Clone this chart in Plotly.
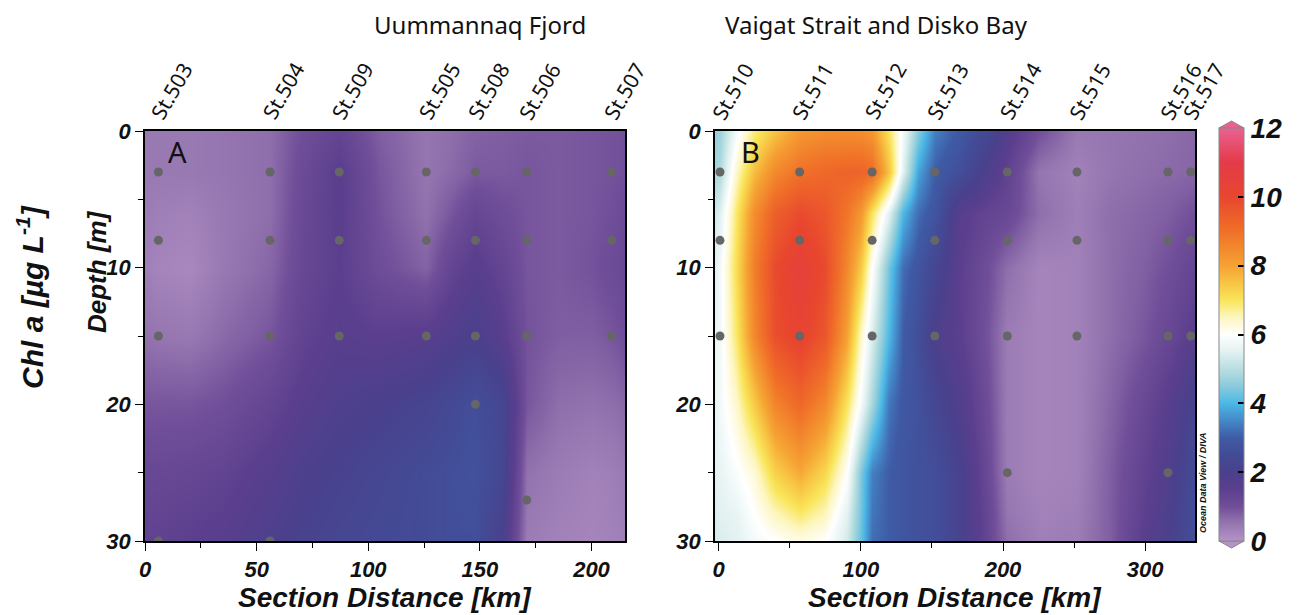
import plotly.graph_objects as go

# ---------------- data ----------------
depths_A = [0, 3, 6, 10, 15, 20, 25, 30]
dist_A = [0, 6, 20, 35, 56, 70, 87, 105, 126, 137, 148, 160, 171, 185, 200, 209, 216]
chl_A = [
    [0.45, 0.45, 0.45, 0.5, 0.6, 1.0, 1.3, 0.8, 0.5, 0.6, 0.75, 0.8, 0.85, 0.85, 0.9, 0.95, 1.0],
    [0.45, 0.45, 0.45, 0.5, 0.6, 1.1, 1.55, 0.9, 0.5, 0.65, 0.85, 0.85, 0.9, 0.85, 0.9, 0.95, 1.0],
    [0.4, 0.35, 0.3, 0.45, 0.6, 1.15, 1.55, 0.95, 0.55, 0.9, 1.25, 1.05, 0.9, 0.85, 0.9, 1.0, 1.15],
    [0.35, 0.25, 0.2, 0.45, 0.7, 1.2, 1.5, 1.05, 0.75, 1.3, 1.6, 1.3, 0.9, 0.85, 0.95, 1.1, 1.2],
    [0.55, 0.5, 0.45, 0.65, 0.9, 1.35, 1.6, 1.5, 1.6, 1.8, 2.0, 1.6, 0.95, 0.8, 0.8, 0.9, 1.05],
    [0.9, 0.9, 0.9, 1.0, 1.3, 1.6, 1.85, 2.0, 2.2, 2.4, 2.6, 2.3, 0.9, 0.6, 0.55, 0.6, 0.7],
    [1.2, 1.2, 1.25, 1.35, 1.65, 1.9, 2.1, 2.3, 2.5, 2.6, 2.7, 2.3, 0.55, 0.4, 0.3, 0.35, 0.45],
    [1.4, 1.4, 1.5, 1.6, 1.9, 2.1, 2.3, 2.4, 2.5, 2.6, 2.6, 2.0, 0.4, 0.3, 0.25, 0.3, 0.35],
]

depths_B = [0, 3, 6, 10, 15, 20, 25, 28, 30]
dist_B = [-2.5, 1, 12, 25, 40, 57, 75, 90, 100, 108, 120, 130, 140, 152, 170, 190, 203, 225, 252, 275, 300, 316, 335]
chl_B = [
    [4.6, 4.7, 5.8, 6.8, 7.5, 8.2, 8.4, 8.4, 8.4, 8.2, 7.0, 5.8, 4.5, 3.4, 2.9, 2.3, 1.7, 1.0, 0.45, 0.5, 0.55, 0.6, 0.7],
    [4.8, 4.9, 6.4, 7.6, 8.5, 9.0, 9.2, 9.3, 9.3, 9.1, 7.5, 5.5, 3.8, 3.0, 2.6, 1.8, 1.4, 0.5, 0.3, 0.5, 0.6, 0.65, 0.7],
    [5.3, 5.5, 6.9, 8.4, 9.4, 9.9, 9.6, 8.9, 8.2, 7.0, 5.5, 4.0, 3.2, 2.8, 1.6, 1.3, 1.2, 0.6, 0.35, 0.6, 0.7, 0.8, 1.0],
    [5.5, 5.8, 7.1, 8.7, 9.9, 10.5, 9.9, 8.5, 7.4, 6.0, 4.3, 3.2, 2.8, 2.3, 1.5, 1.0, 0.6, 0.25, 0.3, 0.6, 0.8, 1.0, 1.3],
    [5.6, 5.8, 6.9, 8.5, 9.8, 10.2, 9.6, 8.0, 6.4, 5.4, 4.0, 3.0, 2.6, 1.9, 1.5, 0.9, 0.4, 0.25, 0.3, 0.6, 0.9, 1.2, 1.6],
    [5.6, 5.8, 6.4, 7.4, 8.6, 9.2, 8.5, 7.0, 5.8, 4.8, 3.3, 2.9, 2.7, 2.3, 1.8, 1.0, 0.4, 0.25, 0.3, 0.7, 1.2, 1.6, 2.2],
    [5.5, 5.6, 5.9, 6.3, 7.3, 7.9, 7.2, 6.0, 4.4, 3.4, 3.0, 2.8, 2.7, 2.6, 2.1, 1.1, 0.4, 0.25, 0.3, 0.8, 1.4, 1.8, 2.5],
    [5.4, 5.5, 5.6, 6.0, 6.5, 6.9, 6.5, 5.5, 4.3, 3.3, 3.0, 2.8, 2.7, 2.6, 2.1, 1.2, 0.5, 0.3, 0.35, 0.8, 1.5, 1.9, 2.6],
    [5.3, 5.4, 5.5, 5.8, 6.0, 6.2, 6.0, 5.3, 4.2, 3.2, 3.0, 2.8, 2.7, 2.6, 2.1, 1.2, 0.6, 0.35, 0.4, 0.8, 1.6, 2.0, 2.6],
]

stations_A = ["St.503", "St.504", "St.509", "St.505", "St.508", "St.506", "St.507"]
station_km_A = [6, 56, 87, 126, 148, 171, 209]
sample_depths_A = [[3, 8, 15, 30], [3, 8, 15, 30], [3, 8, 15], [3, 8, 15],
                   [3, 8, 15, 20], [3, 8, 15, 27], [3, 8, 15]]

stations_B = ["St.510", "St.511", "St.512", "St.513", "St.514", "St.515", "St.516", "St.517"]
station_km_B = [1, 57, 108, 152, 203, 252, 316, 332]
sample_depths_B = [[3, 8, 15], [3, 8, 15], [3, 8, 15], [3, 8, 15],
                   [3, 8, 15, 25], [3, 8, 15], [3, 8, 15, 25], [3, 8, 15]]

cbar_ticks = [0, 2, 4, 6, 8, 10, 12]

# ---------------- style ----------------
W, H = 1299, 615
OFF = 8  # page body margin
FW, FH = W - OFF, H - OFF
def px_x(p): return (p - OFF) / FW
def px_y(p): return 1 - (p - OFF) / FH

odv = [
    [0.0 / 12, "#b493c7"], [0.5 / 12, "#9676b0"], [1.0 / 12, "#704e99"],
    [1.5 / 12, "#5b3f8e"], [2.0 / 12, "#4a408c"], [2.5 / 12, "#434b96"],
    [3.0 / 12, "#3f5ba6"], [3.5 / 12, "#4488c8"], [4.0 / 12, "#4bb8e6"],
    [4.5 / 12, "#8acbdc"], [5.0 / 12, "#b9dee0"], [5.5 / 12, "#e2f1f1"],
    [6.0 / 12, "#ffffff"], [6.5 / 12, "#fdf6c0"], [7.0 / 12, "#f9e559"],
    [7.5 / 12, "#f8c444"], [8.0 / 12, "#f5a233"], [9.0 / 12, "#f07028"],
    [10.0 / 12, "#e8462e"], [11.0 / 12, "#e33b48"], [12.0 / 12, "#ea6292"],
]

BI = dict(family="Liberation Sans, Arial, sans-serif", color="#111111", weight="bold", style="italic")
REG = dict(family="Noto Sans, sans-serif", color="#111111")

fig = go.Figure()

fig.add_trace(go.Heatmap(x=dist_A, y=depths_A, z=chl_A, coloraxis="coloraxis",
                         zsmooth="best", xaxis="x", yaxis="y", hoverinfo="skip"))
fig.add_trace(go.Heatmap(x=dist_B, y=depths_B, z=chl_B, coloraxis="coloraxis",
                         zsmooth="best", xaxis="x2", yaxis="y2", hoverinfo="skip"))

def dots(kms, dps, xa, ya):
    xs, ys = [], []
    for k, ds in zip(kms, dps):
        for d in ds:
            xs.append(k)
            ys.append(d)
    return go.Scatter(x=xs, y=ys, mode="markers", xaxis=xa, yaxis=ya,
                      marker=dict(size=9, color="#666666"), showlegend=False,
                      hoverinfo="skip")

fig.add_trace(dots(station_km_A, sample_depths_A, "x", "y"))
fig.add_trace(dots(station_km_B, sample_depths_B, "x2", "y2"))

ydom = [px_y(541), px_y(131)]
axis_common = dict(showline=True, linecolor="black", linewidth=1.5, mirror=True,
                   ticks="outside", ticklen=8, tickwidth=1.2, tickcolor="black",
                   tickfont=dict(size=22, **BI), showgrid=False, zeroline=False,
                   automargin=False)

fig.update_layout(
    width=FW, height=FH,
    margin=dict(l=0, r=0, t=0, b=0, autoexpand=False),
    paper_bgcolor="white", plot_bgcolor="white",
    showlegend=False,
    xaxis=dict(domain=[px_x(145), px_x(625)], range=[0, 215], anchor="y",
               dtick=50, minor=dict(dtick=25, ticks="outside", ticklen=5, tickcolor="black"),
               **axis_common),
    yaxis=dict(domain=ydom, range=[30, 0], anchor="x", dtick=10,
               minor=dict(dtick=5, ticks="outside", ticklen=5, tickcolor="black"),
               **axis_common),
    xaxis2=dict(domain=[px_x(715), px_x(1195)], range=[-2.5, 335], anchor="y2",
                dtick=100, minor=dict(dtick=50, ticks="outside", ticklen=5, tickcolor="black"),
                **axis_common),
    yaxis2=dict(domain=ydom, range=[30, 0], anchor="x2", dtick=10,
                minor=dict(dtick=5, ticks="outside", ticklen=5, tickcolor="black"),
                **axis_common),
    coloraxis=dict(
        cmin=0, cmax=12, colorscale=odv,
        colorbar=dict(
            x=px_x(1219), xanchor="left", y=px_y(541), yanchor="bottom",
            len=(541 - 128) / FH, lenmode="fraction", thickness=25,
            outlinewidth=1, outlinecolor="#888888",
            tickvals=cbar_ticks, ticks="inside", ticklen=6, tickcolor="black",
            tickwidth=1.5, tickfont=dict(size=28, **BI), xpad=0, ypad=0,
        ),
    ),
)

# colorbar end arrows
fig.add_shape(type="path", xref="paper", yref="paper",
              path=f"M {px_x(1219)},{px_y(128)} L {px_x(1244)},{px_y(128)} L {px_x(1231.5)},{px_y(121)} Z",
              fillcolor="#ea6292", line=dict(color="#888888", width=1))
fig.add_shape(type="path", xref="paper", yref="paper",
              path=f"M {px_x(1219)},{px_y(541)} L {px_x(1244)},{px_y(541)} L {px_x(1231.5)},{px_y(548)} Z",
              fillcolor="#b493c7", line=dict(color="#888888", width=1))

C = dict(showarrow=False, xanchor="center", yanchor="middle")
ann = []
for name, k in zip(stations_A, station_km_A):
    ann.append(dict(x=k, y=px_y(91), xref="x", yref="paper", text=name,
                    textangle=-60, xshift=13, font=dict(size=21, **REG), **C))
for name, k in zip(stations_B, station_km_B):
    ann.append(dict(x=k, y=px_y(91), xref="x2", yref="paper", text=name,
                    textangle=-60, xshift=13, font=dict(size=21, **REG), **C))

ann += [
    dict(x=px_x(480), y=px_y(25), xref="paper", yref="paper", text="Uummannaq Fjord",
         font=dict(size=24, **REG), **C),
    dict(x=px_x(876), y=px_y(25), xref="paper", yref="paper", text="Vaigat Strait and Disko Bay",
         font=dict(size=24, **REG), **C),
    dict(x=px_x(177), y=px_y(152), xref="paper", yref="paper", text="A",
         font=dict(size=29, **REG), **C),
    dict(x=px_x(750), y=px_y(152), xref="paper", yref="paper", text="B",
         font=dict(size=29, **REG), **C),
    dict(x=px_x(385), y=px_y(597), xref="paper", yref="paper", text="Section Distance [km]",
         font=dict(size=28, **BI), **C),
    dict(x=px_x(955), y=px_y(597), xref="paper", yref="paper", text="Section Distance [km]",
         font=dict(size=28, **BI), **C),
    dict(x=px_x(97), y=px_y(272), xref="paper", yref="paper", text="Depth [m]",
         textangle=-90, font=dict(size=26, **BI), **C),
    dict(x=px_x(30), y=px_y(297), xref="paper", yref="paper", text="Chl a [µg L<sup>-1</sup>]",
         textangle=-90, font=dict(size=30, **BI), **C),
    dict(x=px_x(1203), y=px_y(483), xref="paper", yref="paper", text="Ocean Data View / DIVA",
         textangle=-90, font=dict(size=9, **BI), **C),
]
fig.update_layout(annotations=ann)

fig.write_html("out.html")
